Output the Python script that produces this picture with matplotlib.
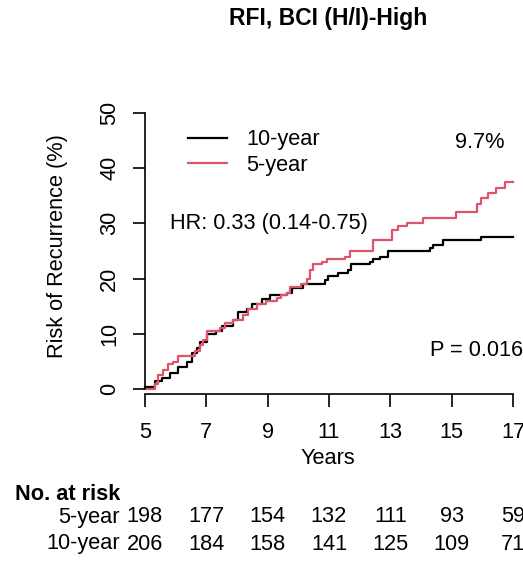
import matplotlib
matplotlib.use("Agg")
import matplotlib.pyplot as plt

plt.rcParams['font.family'] = ['Liberation Sans', 'DejaVu Sans']

# ---- data ----
t10 = [5.00, 5.33, 5.54, 5.81, 6.09, 6.36, 6.52, 6.68, 6.79, 7.01, 7.33, 7.50, 7.88,
       8.04, 8.31, 8.48, 8.80, 9.07, 9.62, 9.78, 10.16, 10.86, 10.97, 11.30, 11.62,
       11.73, 12.33, 12.44, 12.66, 12.93, 14.29, 14.39, 14.72, 15.97, 17.00]
r10 = [0.5, 1.5, 2.0, 3.0, 4.0, 5.0, 6.5, 7.5, 8.5, 10.0, 10.5, 11.5, 12.5,
       14.0, 14.5, 15.5, 16.4, 17.0, 17.5, 18.4, 19.0, 19.8, 20.5, 21.0, 21.5,
       22.6, 23.0, 23.5, 24.0, 25.0, 25.5, 26.0, 27.0, 27.6, 27.6]
t5 = [5.05, 5.33, 5.43, 5.60, 5.76, 5.92, 6.09, 6.63, 6.79, 6.90, 7.01, 7.44, 7.61,
      7.88, 8.20, 8.37, 8.64, 8.96, 9.29, 9.45, 9.62, 9.72, 10.10, 10.27, 10.38,
      10.48, 10.76, 10.92, 11.52, 11.68, 12.44, 13.04, 13.25, 13.53, 14.07, 15.15,
      15.81, 15.97, 16.19, 16.46, 16.73, 17.00]
r5 = [0.0, 1.0, 2.5, 3.5, 4.5, 5.0, 6.0, 7.0, 8.0, 9.0, 10.5, 11.0, 12.0,
      12.5, 13.5, 14.5, 15.5, 16.0, 16.5, 17.0, 17.5, 18.5, 19.0, 20.0, 21.5,
      22.6, 23.0, 23.6, 24.0, 25.0, 27.0, 28.8, 29.6, 30.1, 31.0, 32.0,
      33.5, 34.5, 35.4, 36.4, 37.4, 37.4]
xticks = [5, 7, 9, 11, 13, 15, 17]
yticks = [0, 10, 20, 30, 40, 50]
risk_5 = [198, 177, 154, 132, 111, 93, 59]
risk_10 = [206, 184, 158, 141, 125, 109, 71]
series_names = ["10-year", "5-year"]
colors = ["black", "#DF536B"]

FS = 15.7

W, H = 523, 566
fig = plt.figure(figsize=(W / 100, H / 100), dpi=100)

def fx(px):
    return px / W

def fy(py):
    return 1 - py / H

left, right, top, bottom = 145, 513, 112.7, 394.3
ax = fig.add_axes([fx(left), fy(bottom), (right - left) / W, (bottom - top) / H])
ax.set_xlim(5, 17)
ax.set_ylim(-0.9, 50)

ax.step(t10, r10, where='post', color=colors[0], lw=1.6, clip_on=False, label=series_names[0])
ax.step(t5, r5, where='post', color=colors[1], lw=1.6, clip_on=False, label=series_names[1])

for s in ['top', 'right']:
    ax.spines[s].set_visible(False)
ax.spines['left'].set_bounds(0, 50)
ax.spines['bottom'].set_bounds(5, 17)
for s in ['left', 'bottom']:
    ax.spines[s].set_linewidth(1.2)

ax.set_xticks(xticks)
ax.set_xticklabels([str(v) for v in xticks])
ax.set_yticks(yticks)
ax.set_yticklabels([str(v) for v in yticks], rotation=90, va='center')
ax.tick_params(axis='x', length=9.5, width=1.2, pad=10.5, labelsize=FS)
ax.tick_params(axis='y', length=8.8, width=1.2, pad=9, labelsize=FS)

# axis labels
fig.text(fx(328), fy(459), "Years", ha='center', va='center', fontsize=FS)
fig.text(fx(57), fy(246), "Risk of Recurrence (%)", ha='center', va='center',
         rotation=90, fontsize=FS)

# title
fig.text(fx(328), fy(19), "RFI, BCI (H/I)-High", ha='center', va='center',
         fontsize=16.5, fontweight='bold')

# legend (manual)
fig.add_artist(plt.Line2D([fx(188), fx(227)], [fy(138), fy(138)], color=colors[0], lw=1.6))
fig.add_artist(plt.Line2D([fx(188), fx(227)], [fy(163), fy(163)], color=colors[1], lw=1.6))
fig.text(fx(246), fy(140), series_names[0], ha='left', va='center', fontsize=FS)
fig.text(fx(246), fy(166), series_names[1], ha='left', va='center', fontsize=FS)

# annotations
fig.text(fx(505), fy(142), "9.7%", ha='right', va='center', fontsize=FS)
fig.text(fx(170), fy(223), "HR: 0.33 (0.14-0.75)", ha='left', va='center', fontsize=FS)
fig.text(fx(430), fy(351), "P = 0.016", ha='left', va='center', fontsize=FS)

# number at risk table
fig.text(fx(15), fy(495), "No. at risk", ha='left', va='center', fontsize=FS, fontweight='bold')
fig.text(fx(120), fy(517), "5-year", ha='right', va='center', fontsize=FS)
fig.text(fx(120), fy(544), "10-year", ha='right', va='center', fontsize=FS)
for xv, a, b in zip(xticks, risk_5, risk_10):
    px = ax.transData.transform((xv, 0))[0]
    fig.text(px / W, fy(517), str(a), ha='center', va='center', fontsize=FS)
    fig.text(px / W, fy(544), str(b), ha='center', va='center', fontsize=FS)

fig.savefig("out.png", dpi=100)
